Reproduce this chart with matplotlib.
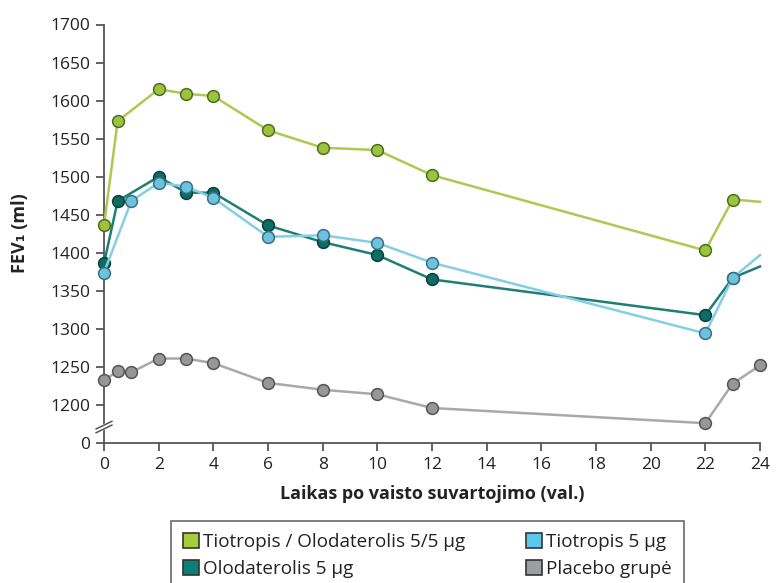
import matplotlib
matplotlib.use("Agg")
import matplotlib.pyplot as plt
from matplotlib.patches import Patch

plt.rcParams['font.family'] = ['Open Sans', 'DejaVu Sans']

# ---- data ----
green_x = [0, 0.5, 2, 3, 4, 6, 8, 10, 12, 22, 23, 24]
green_y = [1436, 1573, 1615, 1609, 1606, 1561, 1538, 1535, 1502, 1403, 1470, 1467]

teal_x = [0, 0.5, 2, 3, 4, 6, 8, 10, 12, 22, 23, 24]
teal_y = [1386, 1468, 1500, 1479, 1479, 1436, 1414, 1397, 1365, 1318, 1367, 1382]

blue_x = [0, 1, 2, 3, 4, 6, 8, 10, 12, 22, 23, 24]
blue_y = [1374, 1468, 1492, 1487, 1472, 1421, 1423, 1413, 1387, 1294, 1367, 1397]

grey_x = [0, 0.5, 1, 2, 3, 4, 6, 8, 10, 12, 22, 23, 24]
grey_y = [1233, 1244, 1243, 1261, 1261, 1255, 1229, 1220, 1214, 1196, 1176, 1228, 1252]

labels = ['Tiotropis / Olodaterolis 5/5 µg', 'Olodaterolis 5 µg',
          'Tiotropis 5 µg', 'Placebo grupė']

y_ticks = [1150, 1200, 1250, 1300, 1350, 1400, 1450, 1500, 1550, 1600, 1650, 1700]
y_tick_labels = ['0', '1200', '1250', '1300', '1350', '1400', '1450', '1500',
                 '1550', '1600', '1650', '1700']
x_ticks = list(range(0, 25, 2))

# ---- figure ----
fig = plt.figure(figsize=(7.79, 5.83), dpi=100)
ax = fig.add_axes([104/779, 1 - 443/583, (760 - 104)/779, (443 - 24.5)/583])

def series(x, y, lc, mfc, mec, markers_all, z):
    n = len(x)
    me = list(range(n)) if markers_all else list(range(n - 1))
    ax.plot(x, y, color=lc, lw=1.8, marker='o', markevery=me, ms=8.5,
            mfc=mfc, mec=mec, mew=1.1, zorder=z, clip_on=False)

series(grey_x, grey_y, '#a9a9a9', '#979797', '#555555', True, 3)
series(green_x, green_y, '#a9cb4f', '#9cc33c', '#4f6b25', False, 4)
series(teal_x, teal_y, '#1f7f75', '#0d6c63', '#0b3f3a', False, 5)
series(blue_x, blue_y, '#84cfe5', '#6cc3dd', '#3c6d84', False, 6)

ax.set_xlim(0, 24)
ax.set_ylim(1150, 1700)
ax.set_xticks(x_ticks)
ax.set_yticks(y_ticks)
ax.set_yticklabels(y_tick_labels)

for s in ['top', 'right']:
    ax.spines[s].set_visible(False)
for s in ['left', 'bottom']:
    ax.spines[s].set_color('#555555')
    ax.spines[s].set_linewidth(1.3)
ax.tick_params(axis='both', direction='out', length=6, width=1.3,
               color='#555555', labelsize=12.5, labelcolor='#222222', pad=4)

# axis break marks
trans = ax.get_yaxis_transform()
ax.plot([-0.012, 0.012], [1166, 1176], transform=trans, color='white', lw=4,
        clip_on=False, zorder=10)
for dy in (-2.5, 2.5):
    ax.plot([-0.012, 0.012], [1166 + dy, 1176 + dy], transform=trans,
            color='#555555', lw=1.1, clip_on=False, zorder=11)

ax.set_xlabel('Laikas po vaisto suvartojimo (val.)', fontsize=13,
              fontweight='bold', color='#222222', labelpad=9)
fig.text(20/779, 1 - 233/583, 'FEV₁ (ml)', rotation=90, fontsize=13,
         fontweight='bold', color='#222222', ha='center', va='center')

handles = [Patch(facecolor='#a6cc3a', edgecolor='#333333', lw=1.2),
           Patch(facecolor='#0a7f7a', edgecolor='#333333', lw=1.2),
           Patch(facecolor='#5cc9ec', edgecolor='#333333', lw=1.2),
           Patch(facecolor='#9b9ea3', edgecolor='#333333', lw=1.2)]
leg = fig.legend(handles, labels, ncol=2, loc='upper left',
                 bbox_to_anchor=(171/779, 1 - 521/583), fontsize=13.6,
                 frameon=True, fancybox=False, edgecolor='#444444',
                 handlelength=0.85, handleheight=0.85, handletextpad=0.2,
                 columnspacing=3.2, labelspacing=0.45, borderpad=0.65,
                 borderaxespad=0)
leg.get_frame().set_linewidth(1.2)
for t in leg.get_texts():
    t.set_color('#222222')

fig.savefig('out.png', dpi=100)
